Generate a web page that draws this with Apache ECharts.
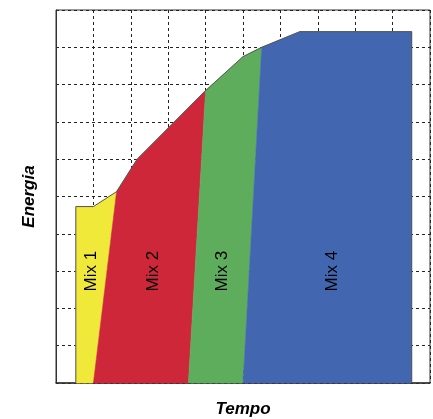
<!DOCTYPE html>
<html>
<head>
<meta charset="utf-8">
<script src="https://cdn.jsdelivr.net/npm/echarts@6/dist/echarts.min.js"></script>
<style>html,body{margin:0;padding:0;background:#fff;}#c{width:433px;height:419px;}</style>
</head>
<body>
<div id="c"></div>
<script>
var mixNames = ['Mix 1', 'Mix 2', 'Mix 3', 'Mix 4'];
var mixColors = ['#F0E93A', '#CF273A', '#5EAD5C', '#4267B0'];
var mix1X = [0.53, 0.53, 1.0, 1.62, 1.0];
var mix1Y = [0, 4.73, 4.73, 5.13, 0];
var mix2X = [1.0, 1.62, 2.17, 4.0, 3.54];
var mix2Y = [0, 5.13, 6.0, 7.84, 0];
var mix3X = [3.54, 4.0, 5.0, 5.5, 5.0];
var mix3Y = [0, 7.84, 8.75, 9.0, 0];
var mix4X = [5.0, 5.5, 6.52, 9.51, 9.51];
var mix4Y = [0, 9.0, 9.42, 9.42, 0];
var labelX = [0.95, 2.59, 4.46, 7.39];
var labelY = [3, 3, 3, 3];
var outlineX = [0.53, 0.53, 1.0, 1.62, 2.17, 4.0, 5.0, 5.5, 6.52, 9.51, 9.51];
var outlineY = [0, 4.73, 4.73, 5.13, 6.0, 7.84, 8.75, 9.0, 9.42, 9.42, 0];

var polysX = [mix1X, mix2X, mix3X, mix4X];
var polysY = [mix1Y, mix2Y, mix3Y, mix4Y];

var chart = echarts.init(document.getElementById('c'));
var dashed = {show: true, lineStyle: {color: '#222', type: [3, 3], width: 1}};
chart.setOption({
  animation: false,
  grid: {left: 56, top: 10, right: 3, bottom: 36, outerBoundsMode: 'none', containLabel: false, show: true, borderColor: '#333', borderWidth: 1, backgroundColor: '#fff'},
  xAxis: {
    type: 'value', min: 0, max: 10, interval: 1,
    name: 'Tempo', nameLocation: 'middle', nameGap: 18,
    nameTextStyle: {fontFamily: 'Liberation Sans', fontWeight: 'bold', fontStyle: 'italic', fontSize: 17, color: '#000'},
    axisLine: {show: true, lineStyle: {color: '#333', width: 1.5}},
    axisTick: {show: false}, axisLabel: {show: false},
    splitLine: dashed
  },
  yAxis: {
    type: 'value', min: 0, max: 10, interval: 1,
    name: 'Energia', nameLocation: 'middle', nameGap: 18,
    nameTextStyle: {fontFamily: 'Liberation Sans', fontWeight: 'bold', fontStyle: 'italic', fontSize: 17, color: '#000'},
    axisLine: {show: true, lineStyle: {color: '#333', width: 1}},
    axisTick: {show: false}, axisLabel: {show: false},
    splitLine: dashed
  },
  series: [
    {
      type: 'custom',
      data: [[0], [1], [2], [3]],
      encode: {x: -1, y: -1},
      z: 2,
      renderItem: function (params, api) {
        var i = params.dataIndex;
        var pts = [];
        for (var k = 0; k < polysX[i].length; k++) {
          pts.push(api.coord([polysX[i][k], polysY[i][k]]));
        }
        var lp = api.coord([labelX[i], labelY[i]]);
        return {
          type: 'group',
          children: [
            {type: 'polygon', shape: {points: pts}, style: {fill: mixColors[i], stroke: mixColors[i], lineWidth: 0.5}},
            {type: 'text', x: lp[0], y: lp[1], rotation: Math.PI / 2,
             style: {text: mixNames[i], fill: '#000', font: '17px "Liberation Sans", Arial, sans-serif', align: 'center', verticalAlign: 'middle'}}
          ]
        };
      }
    },
    {
      type: 'line',
      data: outlineX.map(function (x, k) { return [x, outlineY[k]]; }),
      symbol: 'none',
      z: 3,
      lineStyle: {color: '#555', width: 1},
      silent: true
    }
  ]
});
</script>
</body>
</html>
